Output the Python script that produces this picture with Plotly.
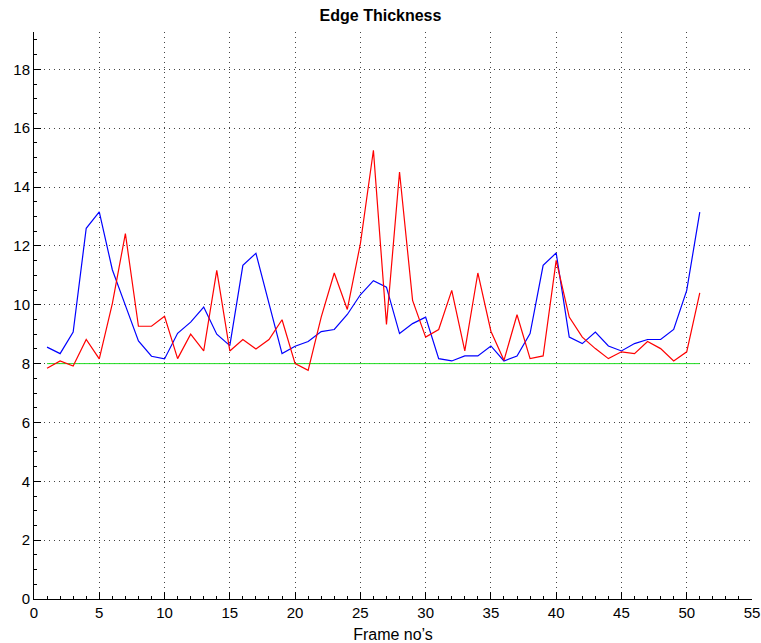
import plotly.graph_objects as go

# Frame numbers and the two edge-thickness measurements per frame
frames = list(range(1, 52))

thickness_blue = [
    8.56, 8.34, 9.07, 12.60, 13.16, 11.19, 9.98, 8.77, 8.25, 8.16,
    9.03, 9.41, 9.92, 9.00, 8.61, 11.34, 11.75, 10.04, 8.34, 8.59,
    8.75, 9.09, 9.16, 9.67, 10.34, 10.82, 10.60, 9.02, 9.36, 9.58,
    8.17, 8.09, 8.26, 8.26, 8.60, 8.09, 8.26, 9.02, 11.34, 11.76,
    8.90, 8.68, 9.07, 8.60, 8.43, 8.68, 8.82, 8.82, 9.16, 10.49,
    13.15,
]

thickness_red = [
    7.84, 8.09, 7.92, 8.82, 8.16, 10.04, 12.42, 9.27, 9.27, 9.61,
    8.17, 9.00, 8.43, 11.17, 8.43, 8.82, 8.50, 8.82, 9.49, 8.00,
    7.77, 9.58, 11.08, 9.84, 12.07, 15.25, 9.33, 14.51, 10.15, 8.90,
    9.16, 10.49, 8.43, 11.08, 9.10, 8.11, 9.66, 8.17, 8.26, 11.51,
    9.58, 8.90, 8.51, 8.17, 8.40, 8.34, 8.75, 8.51, 8.09, 8.40,
    10.40,
]

# Constant reference level
reference_level = 8
reference = [reference_level] * len(frames)

x_ticks = list(range(0, 56, 5))
y_ticks = list(range(0, 19, 2))

fig = go.Figure()
fig.add_trace(go.Scatter(x=frames, y=reference, mode="lines",
                         line=dict(color="#22dd22", width=1), showlegend=False))
fig.add_trace(go.Scatter(x=frames, y=thickness_blue, mode="lines",
                         line=dict(color="#0000ff", width=1.2), showlegend=False))
fig.add_trace(go.Scatter(x=frames, y=thickness_red, mode="lines",
                         line=dict(color="#ff0000", width=1.2), showlegend=False))

font_family = "Liberation Sans, Arial, Helvetica, sans-serif"

fig.update_layout(
    width=761, height=643,
    margin=dict(l=34, r=9, t=32, b=44),
    paper_bgcolor="white", plot_bgcolor="white",
    font=dict(family=font_family, size=14, color="black"),
    title=dict(text="<b>Edge Thickness</b>", x=0.5, xanchor="center",
               y=1 - 15 / 643, yanchor="middle",
               font=dict(family=font_family, size=16, color="black")),
    xaxis=dict(
        range=[0, 55], tickvals=x_ticks, ticks="inside", ticklen=7,
        tickcolor="black", showline=True, linecolor="black", linewidth=1,
        mirror=False, zeroline=False, automargin=False,
        showgrid=True, gridcolor="#444", gridwidth=1, griddash="1px,4px",
        minor=dict(dtick=1, ticks="inside", ticklen=3, tickcolor="black",
                   showgrid=False),
        title=dict(text="Frame no\u2019s", standoff=8,
                   font=dict(family=font_family, size=16)),
        tickfont=dict(family=font_family, size=15),
    ),
    yaxis=dict(
        range=[0, 19.27], tickvals=y_ticks, ticks="inside", ticklen=7,
        tickcolor="black", showline=True, linecolor="black", linewidth=1,
        mirror=False, zeroline=False, automargin=False,
        showgrid=True, gridcolor="#444", gridwidth=1, griddash="1px,4px",
        minor=dict(dtick=0.5, ticks="inside", ticklen=3, tickcolor="black",
                   showgrid=False),
        tickfont=dict(family=font_family, size=15),
    ),
)

fig.write_html("out.html")
